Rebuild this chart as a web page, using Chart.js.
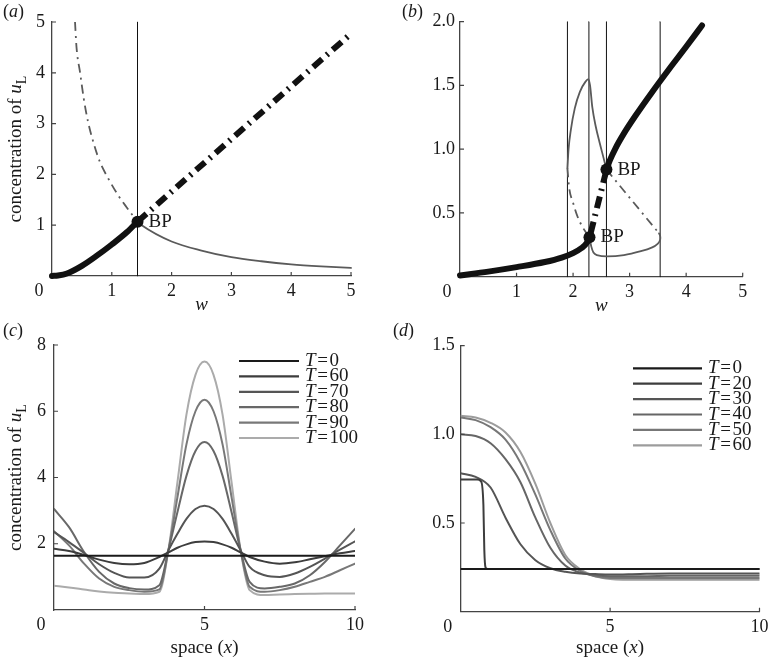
<!doctype html>
<html>
<head>
<title>Steady states and patterns of u_L</title>
<script src="https://cdn.jsdelivr.net/npm/chart.js@4.4.1/dist/chart.umd.min.js"></script>
<style>
body { margin: 0; background: #fff; }
.panel { position: absolute; }
</style>
</head>
<body>
<div class="panel" style="left:0;top:0"><canvas id="pa" width="386" height="330"></canvas></div>
<div class="panel" style="left:386px;top:0"><canvas id="pb" width="387" height="330"></canvas></div>
<div class="panel" style="left:0;top:318px"><canvas id="pc" width="386" height="339"></canvas></div>
<div class="panel" style="left:386px;top:318px"><canvas id="pd" width="387" height="339"></canvas></div>
<script>
// (a) steady states of u_L against w
var aStableW = [0, 0.1, 0.25, 0.5, 0.75, 1, 1.25, 1.43];
var aStableU = [0, 0.01, 0.05, 0.2, 0.4, 0.62, 0.86, 1.07];
var aUnstableW = [1.43, 5];
var aUnstableU = [1.07, 4.77];
var aUpperW = [0.385, 0.41, 0.47, 0.53, 0.6, 0.7, 0.8, 0.95, 1.1, 1.25, 1.43];
var aUpperU = [5, 4.5, 4.0, 3.5, 3.05, 2.6, 2.25, 1.9, 1.6, 1.35, 1.07];
var aLowerW = [1.43, 1.5, 2, 2.5, 3, 3.5, 4, 4.5, 5];
var aLowerU = [1.07, 1.0, 0.68, 0.5, 0.37, 0.29, 0.23, 0.19, 0.16];
var aMarkW = [1.43];
var aBPW = [1.43];
var aBPU = [1.07];

// (b) steady states of u_L against w, second parameter set
var bStableLowW = [0, 0.5, 1, 1.5, 1.8, 2.0, 2.15, 2.25, 2.29];
var bStableLowU = [0.01, 0.04, 0.075, 0.115, 0.15, 0.185, 0.225, 0.27, 0.31];
var bStableHighW = [2.59, 2.65, 2.75, 2.9, 3.1, 3.4, 3.7, 4.0, 4.28];
var bStableHighU = [0.84, 0.912, 1.007, 1.124, 1.26, 1.449, 1.629, 1.803, 1.97];
var bUnstableW = [2.31, 2.58];
var bUnstableU = [0.34, 0.82];
var bPeakW = [1.9, 1.92, 1.96, 2.03, 2.12, 2.22, 2.27, 2.3, 2.34, 2.4, 2.47, 2.54, 2.59];
var bPeakU = [0.85, 1.0, 1.15, 1.32, 1.45, 1.53, 1.55, 1.5, 1.33, 1.18, 1.05, 0.93, 0.84];
var bLeftW = [1.9, 1.93, 2.0, 2.08, 2.18, 2.29];
var bLeftU = [0.85, 0.7, 0.58, 0.47, 0.38, 0.31];
var bTroughW = [2.29, 2.32, 2.36, 2.42, 2.6, 2.9, 3.2, 3.4, 3.5, 3.54, 3.54, 3.52];
var bTroughU = [0.31, 0.24, 0.19, 0.17, 0.16, 0.17, 0.2, 0.23, 0.26, 0.29, 0.32, 0.34];
var bRightW = [2.59, 3.52];
var bRightU = [0.84, 0.34];
var bMarkW = [1.9, 2.28, 2.59, 3.54];
var bBPW = [2.29, 2.59];
var bBPU = [0.31, 0.84];

// (c) u_L over space at several times
var cTimes = [0, 60, 70, 80, 90, 100];
var cX = [0, 0.5, 1, 1.5, 2, 2.5, 3, 3.5, 3.8, 4.1, 4.4, 4.7, 5, 5.3, 5.6, 5.9, 6.2, 6.5, 7, 7.5, 8, 8.5, 9, 9.5, 10];
var cT0 = [1.64, 1.64, 1.64, 1.64, 1.64, 1.64, 1.64, 1.64, 1.64, 1.64, 1.64, 1.64, 1.64, 1.64, 1.64, 1.64, 1.64, 1.64, 1.64, 1.64, 1.64, 1.64, 1.64, 1.64, 1.64];
var cT60 = [1.85, 1.78, 1.66, 1.52, 1.42, 1.38, 1.42, 1.6, 1.74, 1.88, 1.98, 2.05, 2.07, 2.05, 1.98, 1.88, 1.74, 1.6, 1.46, 1.4, 1.44, 1.53, 1.62, 1.71, 1.78];
var cT70 = [2.35, 2.05, 1.72, 1.38, 1.12, 0.98, 0.98, 1.25, 1.8, 2.3, 2.75, 3.05, 3.15, 3.05, 2.75, 2.3, 1.8, 1.3, 1.05, 1.0, 1.1, 1.3, 1.55, 1.82, 2.07];
var cT80 = [3.05, 2.5, 1.75, 1.15, 0.8, 0.66, 0.62, 0.75, 1.8, 2.95, 4.05, 4.8, 5.07, 4.8, 4.05, 2.95, 1.8, 0.85, 0.65, 0.7, 0.8, 1.05, 1.45, 1.95, 2.45];
var cT90 = [2.38, 1.95, 1.4, 0.95, 0.7, 0.6, 0.55, 0.62, 1.8, 3.4, 5.0, 6.0, 6.35, 6.0, 5.0, 3.4, 1.8, 0.7, 0.55, 0.6, 0.7, 0.85, 1.0, 1.2, 1.4];
var cT100 = [0.73, 0.68, 0.62, 0.56, 0.52, 0.5, 0.48, 0.55, 1.8, 3.85, 5.9, 7.1, 7.5, 7.1, 5.9, 3.85, 1.8, 0.6, 0.45, 0.47, 0.48, 0.49, 0.5, 0.5, 0.5];
var cColors = ['#1a1a1a', '#3d3d3d', '#555555', '#686868', '#787878', '#ababab'];

// (d) u_L over space at several times, second parameter set
var dTimes = [0, 20, 30, 40, 50, 60];
var dX = [0, 0.5, 1, 1.5, 2, 2.5, 3, 3.5, 4, 4.5, 5, 6, 7, 8, 9, 10];
var dT0 = [0.24, 0.24, 0.24, 0.24, 0.24, 0.24, 0.24, 0.24, 0.24, 0.24, 0.24, 0.24, 0.24, 0.24, 0.24, 0.24];
var dStepX = [0, 0.55, 0.68, 0.76, 0.79, 0.83, 0.9, 2, 5, 10];
var dT20 = [0.745, 0.745, 0.735, 0.6, 0.35, 0.25, 0.24, 0.24, 0.24, 0.24];
var dT30 = [0.78, 0.76, 0.7, 0.53, 0.38, 0.29, 0.245, 0.225, 0.215, 0.212, 0.21, 0.213, 0.215, 0.215, 0.215, 0.215];
var dT40 = [1.0, 0.99, 0.95, 0.86, 0.73, 0.53, 0.36, 0.26, 0.22, 0.205, 0.2, 0.2, 0.202, 0.203, 0.203, 0.203];
var dT50 = [1.095, 1.08, 1.04, 0.97, 0.84, 0.66, 0.46, 0.3, 0.23, 0.2, 0.19, 0.19, 0.19, 0.19, 0.19, 0.19];
var dT60 = [1.105, 1.095, 1.065, 1.01, 0.9, 0.72, 0.5, 0.32, 0.24, 0.2, 0.185, 0.18, 0.18, 0.18, 0.18, 0.18];
var dColors = ['#1a1a1a', '#3d3d3d', '#555555', '#666666', '#777777', '#9c9c9c'];

var SERIF = '"Liberation Serif", "DejaVu Serif", serif';
var AXIS = '#444444';
var INK = '#1a1a1a';

function pts(xs, ys) {
	return xs.map(function(x, i) { return {x: x, y: ys[i]}; });
}

function vlines(ws, top) {
	return ws.map(function(w) {
		return line([{x: w, y: 0}, {x: w, y: top}], '#111', 1, null, 10, 0);
	});
}

function line(data, color, width, dash, order, tension) {
	var d = {
		data: data,
		showLine: true,
		borderColor: color,
		borderWidth: width,
		borderDash: dash || [],
		borderCapStyle: dash ? 'butt' : 'round',
		pointRadius: 0,
		fill: false,
		tension: tension === 'mono' ? 0 : tension,
		order: order,
		clip: false
	};
	if (tension === 'mono') d.cubicInterpolationMode = 'monotone';
	return d;
}

function smooth(data, color) {
	var d = line(data, color, 2, null, 1, 'mono');
	d.clip = undefined;
	return d;
}

function marks(data) {
	return {
		data: data,
		showLine: false,
		pointRadius: 6,
		pointBackgroundColor: '#111',
		pointBorderWidth: 0,
		order: 0,
		clip: false
	};
}

function font(r) {
	return (r.it ? 'italic ' : '') + (r.size || 19) + 'px ' + SERIF;
}

function drawRuns(ctx, runs, x, y, align) {
	var w = 0;
	runs.forEach(function(r) { ctx.font = font(r); w += ctx.measureText(r.t).width; });
	var cx = align === 'center' ? x - w / 2 : x;
	runs.forEach(function(r) {
		ctx.font = font(r);
		ctx.fillText(r.t, cx, y + (r.dy || 0));
		cx += ctx.measureText(r.t).width;
	});
}

var figurePlugin = {
	id: 'figure',
	afterDraw: function(chart, args, o) {
		var ctx = chart.ctx, area = chart.chartArea, xs = chart.scales.x, ys = chart.scales.y;
		ctx.save();
		// inward tick marks
		ctx.strokeStyle = AXIS;
		ctx.lineWidth = 1.2;
		ctx.beginPath();
		xs.ticks.forEach(function(t) {
			if (t.value === xs.min) return;
			var p = xs.getPixelForValue(t.value);
			ctx.moveTo(p, area.bottom);
			ctx.lineTo(p, area.bottom - 4);
		});
		ys.ticks.forEach(function(t) {
			if (t.value === ys.min) return;
			var p = ys.getPixelForValue(t.value);
			ctx.moveTo(area.left, p);
			ctx.lineTo(area.left + 4, p);
		});
		ctx.stroke();

		ctx.fillStyle = INK;
		ctx.textBaseline = 'middle';
		ctx.textAlign = 'left';
		// origin label
		drawRuns(ctx, [{t: '0', size: 18}], xs.getPixelForValue(0) - 13, area.bottom + 15.5, 'center');
		// panel letter
		drawRuns(ctx, [{t: '(', size: 18}, {t: o.letter, it: true, size: 18}, {t: ')', size: 18}], o.letterX, o.letterY, 'left');
		// x title
		drawRuns(ctx, o.xTitle, (area.left + area.right) / 2, area.bottom + o.xTitleDy, 'center');
		// y title
		if (o.yTitle) {
			ctx.save();
			ctx.translate(16, (area.top + area.bottom) / 2);
			ctx.rotate(-Math.PI / 2);
			drawRuns(ctx, [{t: 'concentration of '}, {t: 'u', it: true}, {t: 'L', size: 14, dy: 6}], 0, 0, 'center');
			ctx.restore();
		}
		// branch point labels
		if (o.bp) {
			o.bp.w.forEach(function(w, i) {
				drawRuns(ctx, [{t: 'BP'}], xs.getPixelForValue(w) + 11, ys.getPixelForValue(o.bp.u[i]), 'left');
			});
		}
		// legend
		if (o.legend) {
			var L = o.legend;
			L.times.forEach(function(t, i) {
				var y = L.y0 + i * L.dy;
				ctx.strokeStyle = chart.data.datasets[i].borderColor;
				ctx.lineWidth = 2.2;
				ctx.beginPath();
				ctx.moveTo(L.x0, y);
				ctx.lineTo(L.x1, y);
				ctx.stroke();
				drawRuns(ctx, [{t: 'T', it: true}, {t: '\u200a=\u200a'}, {t: String(t)}], L.x1 + 6, y, 'left');
			});
		}
		ctx.restore();
	}
};

function config(datasets, g, fig) {
	return {
		type: 'scatter',
		data: {datasets: datasets},
		plugins: [figurePlugin],
		options: {
			responsive: false,
			animation: false,
			events: [],
			layout: {padding: {left: 0, top: g.T, right: g.R, bottom: 0}},
			plugins: {legend: {display: false}, tooltip: {enabled: false}, figure: fig},
			scales: {
				x: {
					type: 'linear', min: g.xmin, max: g.xmax,
					afterFit: function(s) { s.height = g.H; },
					border: {display: true, color: AXIS, width: 1.3},
					grid: {display: false, drawTicks: false},
					ticks: {
						stepSize: g.xstep, padding: 4.5, color: INK, maxRotation: 0, autoSkip: false,
						font: {family: SERIF, size: 18},
						callback: function(v) { return v === 0 ? '' : String(v); }
					}
				},
				y: {
					type: 'linear', min: g.ymin, max: g.ymax,
					afterFit: function(s) { s.width = g.L; },
					border: {display: true, color: AXIS, width: 1.3},
					grid: {display: false, drawTicks: false},
					ticks: {
						stepSize: g.ystep, padding: g.ypad, color: INK, autoSkip: false,
						font: {family: SERIF, size: 18},
						callback: function(v) { return v === 0 ? '' : v.toFixed(g.ydec); }
					}
				}
			}
		}
	};
}

window.onload = function() {
	var GRAY = '#5a5a5a';
	var DASHDOT = [9, 5, 2, 5];
	var BIGDASH = [12, 6, 2, 6];

	new Chart(document.getElementById('pa'), config(
		vlines(aMarkW, 5).concat([
			line(pts(aUpperW, aUpperU), GRAY, 1.8, DASHDOT, 5, 'mono'),
			line(pts(aLowerW, aLowerU), GRAY, 1.8, null, 5, 'mono'),
			line(pts(aStableW, aStableU), '#111', 6, null, 2, 'mono'),
			line(pts(aUnstableW, aUnstableU), '#111', 6, BIGDASH, 2, 0),
			marks(pts(aBPW, aBPU))
		]),
		{L: 52, R: 35, T: 22, H: 54, xmin: 0, xmax: 5, xstep: 1, ymin: 0, ymax: 5, ystep: 1, ydec: 0, ypad: 7},
		{letter: 'a', letterX: 3, letterY: 12.5, yTitle: true, xTitle: [{t: 'w', it: true}], xTitleDy: 29,
			bp: {w: aBPW, u: aBPU}}
	));

	new Chart(document.getElementById('pb'), config(
		vlines(bMarkW, 2).concat([
			line(pts(bPeakW, bPeakU), GRAY, 1.8, null, 5, 'mono'),
			line(pts(bTroughW, bTroughU), GRAY, 1.8, null, 5, 0.3),
			line(pts(bLeftW, bLeftU), GRAY, 1.8, DASHDOT, 5, 'mono'),
			line(pts(bRightW, bRightU), GRAY, 1.8, DASHDOT, 5, 0),
			line(pts(bStableLowW, bStableLowU), '#111', 6, null, 2, 'mono'),
			line(pts(bStableHighW, bStableHighU), '#111', 6, null, 2, 'mono'),
			line(pts(bUnstableW, bUnstableU), '#111', 6, BIGDASH, 2, 0),
			marks(pts(bBPW, bBPU))
		]),
		{L: 74, R: 30.3, T: 21.7, H: 53.3, xmin: 0, xmax: 5, xstep: 1, ymin: 0, ymax: 2, ystep: 0.5, ydec: 1, ypad: 5},
		{letter: 'b', letterX: 16, letterY: 12.5, yTitle: false, xTitle: [{t: 'w', it: true}], xTitleDy: 29,
			bp: {w: bBPW, u: bBPU}}
	));

	var cSeries = [cT0, cT60, cT70, cT80, cT90, cT100];
	new Chart(document.getElementById('pc'), config(
		cSeries.map(function(s, i) { return smooth(pts(cX, s), cColors[i]); }),
		{L: 54, R: 31, T: 27, H: 47, xmin: 0, xmax: 10, xstep: 5, ymin: 0, ymax: 8, ystep: 2, ydec: 0, ypad: 8},
		{letter: 'c', letterX: 3, letterY: 13, yTitle: true, xTitle: [{t: 'space ('}, {t: 'x', it: true}, {t: ')'}], xTitleDy: 38,
			legend: {times: cTimes, x0: 239, x1: 299, y0: 43, dy: 15.4}}
	));

	var dSeries = [pts(dX, dT0), pts(dStepX, dT20), pts(dX, dT30), pts(dX, dT40), pts(dX, dT50), pts(dX, dT60)];
	new Chart(document.getElementById('pd'), config(
		dSeries.map(function(s, i) { return smooth(s, dColors[i]); }),
		{L: 74.7, R: 11.3, T: 27.6, H: 45.3, xmin: 0, xmax: 10, xstep: 5, ymin: 0, ymax: 1.5, ystep: 0.5, ydec: 1, ypad: 6},
		{letter: 'd', letterX: 7, letterY: 13, yTitle: false, xTitle: [{t: 'space ('}, {t: 'x', it: true}, {t: ')'}], xTitleDy: 36.3,
			legend: {times: dTimes, x0: 247, x1: 316, y0: 50.3, dy: 15.4}}
	));
};
</script>
</body>
</html>
